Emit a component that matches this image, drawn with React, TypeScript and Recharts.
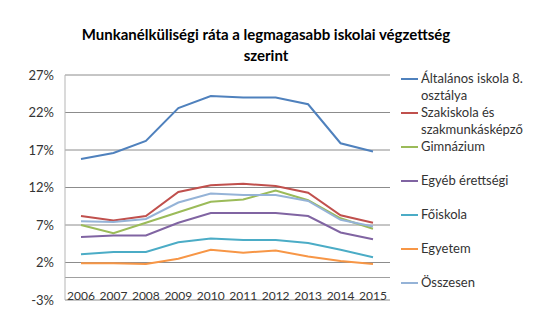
import { LineChart, Line, XAxis, YAxis, CartesianGrid, ReferenceLine, Legend } from 'recharts';

const years = ['2006', '2007', '2008', '2009', '2010', '2011', '2012', '2013', '2014', '2015'];

const altalanos = [15.8, 16.6, 18.2, 22.6, 24.2, 24.0, 24.0, 23.1, 17.9, 16.8];
const szakiskola = [8.2, 7.6, 8.2, 11.4, 12.3, 12.5, 12.2, 11.3, 8.3, 7.3];
const gimnazium = [7.0, 5.9, 7.3, 8.7, 10.1, 10.4, 11.6, 10.3, 7.9, 6.5];
const egyebErettsegi = [5.4, 5.6, 5.6, 7.3, 8.6, 8.6, 8.6, 8.2, 6.0, 5.1];
const foiskola = [3.1, 3.4, 3.4, 4.7, 5.2, 5.0, 5.0, 4.6, 3.7, 2.7];
const egyetem = [1.9, 1.9, 1.8, 2.5, 3.7, 3.3, 3.6, 2.8, 2.2, 1.8];
const osszesen = [7.5, 7.4, 7.8, 10.0, 11.2, 11.0, 11.0, 10.2, 7.7, 6.8];

const yTicks = [-3, 2, 7, 12, 17, 22, 27];

// Excel 2010 default palette
const series = [
  { key: 'altalanos', name: 'Általános iskola 8. osztálya', lines: ['Általános iskola 8.', 'osztálya'], values: altalanos, color: '#4F81BD' },
  { key: 'szakiskola', name: 'Szakiskola és szakmunkásképző', lines: ['Szakiskola és', 'szakmunkásképző'], values: szakiskola, color: '#C0504D' },
  { key: 'gimnazium', name: 'Gimnázium', lines: ['Gimnázium'], values: gimnazium, color: '#9BBB59' },
  { key: 'egyeb', name: 'Egyéb érettségi', lines: ['Egyéb érettségi'], values: egyebErettsegi, color: '#8064A2' },
  { key: 'foiskola', name: 'Főiskola', lines: ['Főiskola'], values: foiskola, color: '#4BACC6' },
  { key: 'egyetem', name: 'Egyetem', lines: ['Egyetem'], values: egyetem, color: '#F79646' },
  { key: 'osszesen', name: 'Összesen', lines: ['Összesen'], values: osszesen, color: '#95B3D7' },
];

const data = years.map((year, i) => {
  const row: Record<string, string | number> = { year };
  series.forEach((s) => {
    row[s.key] = s.values[i];
  });
  return row;
});

const FONT = 'Lato, "Open Sans", sans-serif';
const TEXT = '#333333';

function XTick({ x, y, payload }: any) {
  return (
    <text x={x} y={y - 5} textAnchor="middle" dominantBaseline="central" fontSize={12} fontFamily={FONT} fill={TEXT}>
      {payload.value}
    </text>
  );
}

function renderLegend() {
  return (
    <div style={{ fontFamily: FONT, fontSize: 13, color: TEXT }}>
      {series.map((s) => (
        <div key={s.key} style={{ height: 34, display: 'flex', alignItems: 'flex-start' }}>
          <div style={{ width: 17, height: 2, background: s.color, marginTop: 8, marginRight: 3, flexShrink: 0 }} />
          <div style={{ lineHeight: '16.5px', whiteSpace: 'nowrap' }}>
            {s.lines.map((l) => (
              <div key={l}>{l}</div>
            ))}
          </div>
        </div>
      ))}
    </div>
  );
}

export default function App() {
  return (
    <div style={{ position: 'relative', width: 550, height: 327, background: '#fff' }}>
      <style>{'body{margin:0}'}</style>
      <div
        style={{
          position: 'absolute',
          left: 46,
          width: 440,
          top: 24,
          textAlign: 'center',
          fontFamily: FONT,
          fontWeight: 'bold',
          fontSize: 15,
          lineHeight: '21px',
          color: '#000',
        }}
      >
        Munkanélküliségi ráta a legmagasabb iskolai végzettség
        <br />
        szerint
      </div>
      <LineChart width={550} height={327} data={data} margin={{ top: 75, right: 160, bottom: 0, left: 0 }}>
        <CartesianGrid vertical={false} stroke="#8c8c8c" />
        <XAxis
          dataKey="year"
          height={27}
          axisLine={false}
          tickLine={false}
          tickSize={0}
          tickMargin={0}
          interval={0}
          padding={{ left: 16, right: 17 }}
          tick={<XTick />}
        />
        <YAxis
          width={65}
          domain={[-3, 27]}
          ticks={yTicks}
          tickFormatter={(v) => `${v}%`}
          axisLine={{ stroke: '#b5b5b5' }}
          tickLine={false}
          tickSize={0}
          tickMargin={11}
          tick={{ fontSize: 13, fontFamily: FONT, fill: TEXT }}
        />
        <ReferenceLine y={0} stroke="#a0a0a0" />
        {series.map((s) => (
          <Line
            key={s.key}
            type="linear"
            dataKey={s.key}
            name={s.name}
            stroke={s.color}
            strokeWidth={2}
            dot={false}
            isAnimationActive={false}
          />
        ))}
        <Legend
          layout="vertical"
          align="center"
          verticalAlign="middle"
          content={renderLegend}
          wrapperStyle={{ left: 401, top: 70, width: 150, height: 240 }}
        />
      </LineChart>
    </div>
  );
}
